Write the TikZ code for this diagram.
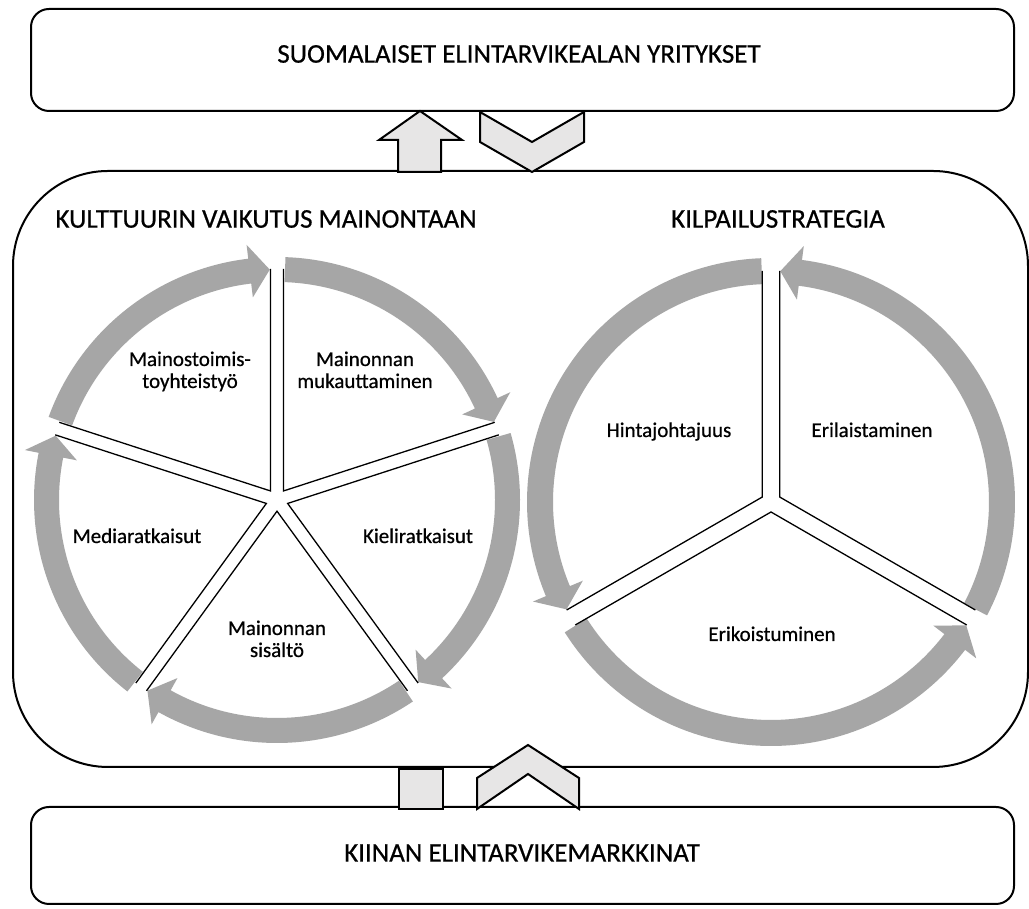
\documentclass[tikz,border=0pt]{standalone}
\usepackage{fontspec}
\setmainfont{Carlito}
\newfontfamily\txtfont{Carlito}[FakeBold=0.6]
\usetikzlibrary{calc}
\definecolor{ringgray}{RGB}{166,166,166}
\definecolor{blockgray}{RGB}{231,230,230}
\begin{document}
\begin{tikzpicture}[x=1pt,y=1pt,
  box/.style={draw=black, line width=2pt, fill=white, inner sep=0pt},
  hdr/.style={font=\txtfont\fontsize{27}{32}\selectfont, inner sep=0pt},
  lbl/.style={font=\txtfont\fontsize{21}{22}\selectfont, align=center, inner sep=0pt, anchor=base},
  blockarrow/.style={draw=black, line width=2pt, fill=blockgray, line join=miter},
  spoke/.style={draw=black, line width=1.3pt, line join=miter}]
\useasboundingbox (0,0) rectangle (1029,909);

% boxes
\node[box, rounded corners=95pt, minimum width=1015pt, minimum height=596pt, anchor=south west] (mid) at (12,141) {};
\node[box, rounded corners=18pt, minimum width=983pt, minimum height=102pt, anchor=south west] (top) at (30,797) {};
\node[box, rounded corners=18pt, minimum width=983pt, minimum height=97pt, anchor=south west] (bot) at (30,4) {};

% texts of boxes
\node[hdr] (ttop) at (519,855) {SUOMALAISET ELINTARVIKEALAN YRITYKSET};
\node[hdr] (tbot) at (522,56) {KIINAN ELINTARVIKEMARKKINAT};
\node[hdr] (tcult) at (266,690) {KULTTUURIN VAIKUTUS MAINONTAAN};
\node[hdr] (tkilp) at (778,690) {KILPAILUSTRATEGIA};

% block arrows between boxes
\draw[blockarrow] (398,737) -- (398,769) -- (379,769) -- (420,798) -- (462,769) -- (441,769) -- (441,737) -- cycle;
\draw[blockarrow] (480,797) -- (532,767) -- (584,797) -- (584,767) -- (532,737) -- (480,767) -- cycle;
\draw[blockarrow] (399,100) rectangle (443,140);
\draw[blockarrow] (477,100) -- (477,131) -- (528,164) -- (579,131) -- (579,100) -- (528,135) -- cycle;

% left cycle
\coordinate (lc) at (277,409);
\foreach \s in {90,18,-54,-126,-198} {
  \pgfmathsetmacro\aone{\s+70}
  \pgfmathsetmacro\ab{\s+6.8}
  \pgfmathsetmacro\at{\s+1.8}
  \fill[ringgray] ($(lc)+(\aone:218)$) arc[start angle=\aone, end angle=\ab, radius=218]
    -- ($(lc)+(\ab:204)$) -- ($(lc)+(\at:230.5)$) -- ($(lc)+(\ab:257)$) -- ($(lc)+(\ab:243)$)
    arc[start angle=\ab, end angle=\aone, radius=243] -- cycle;
}
\foreach \a/\b in {90/162, 18/90, -54/18, -126/-54, -198/-126} {
  \pgfmathsetmacro\bis{(\a+\b)/2}
  \coordinate (ap) at ($(lc)+(\bis:11.2)$);
  \draw[spoke] ($(ap)+(\a:222)$) -- (ap) -- ($(ap)+(\b:222)$);
}

% right cycle
\coordinate (rc) at (771,407);
\foreach \s in {90,210,330} {
  \pgfmathsetmacro\aone{\s+2.3}
  \pgfmathsetmacro\ab{\s+120-7.3}
  \pgfmathsetmacro\at{\s+120-2.3}
  \fill[ringgray] ($(rc)+(\aone:218)$) arc[start angle=\aone, end angle=\ab, radius=218]
    -- ($(rc)+(\ab:204)$) -- ($(rc)+(\at:231)$) -- ($(rc)+(\ab:258)$) -- ($(rc)+(\ab:244)$)
    arc[start angle=\ab, end angle=\aone, radius=244] -- cycle;
}
\foreach \a/\b in {90/210, 210/330, -30/90} {
  \pgfmathsetmacro\bis{(\a+\b)/2}
  \coordinate (ap) at ($(rc)+(\bis:10)$);
  \draw[spoke] ($(ap)+(\a:226)$) -- (ap) -- ($(ap)+(\b:226)$);
}

% labels
\node[lbl] (l1) at (190,521) {Mainostoimis-\\toyhteistyö};
\node[lbl] (l2) at (365,521) {Mainonnan\\mukauttaminen};
\node[lbl] (l3) at (137,366) {Mediaratkaisut};
\node[lbl] (l4) at (418,366) {Kieliratkaisut};
\node[lbl] (l5) at (277,252) {Mainonnan\\sisältö};
\node[lbl] (r1) at (669,472) {Hintajohtajuus};
\node[lbl] (r2) at (872,472) {Erilaistaminen};
\node[lbl] (r3) at (772,268) {Erikoistuminen};
\end{tikzpicture}
\end{document}
